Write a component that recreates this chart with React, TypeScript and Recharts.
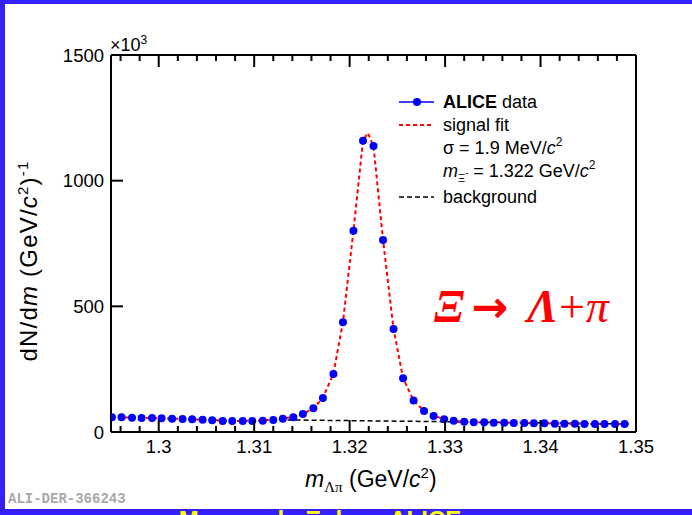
import React from "react";
import { ComposedChart, Line, XAxis, YAxis } from "recharts";

// invariant mass bins (GeV/c^2) and counts (x10^3)
const binX = [
  1.2951, 1.2961, 1.2972, 1.2982, 1.2993, 1.3003, 1.3014, 1.3025, 1.3035, 1.3046,
  1.3056, 1.3067, 1.3077, 1.3088, 1.3098, 1.3109, 1.312, 1.313, 1.3141, 1.3151,
  1.3162, 1.3172, 1.3183, 1.3193, 1.3204, 1.3214, 1.3225, 1.3235, 1.3246, 1.3256,
  1.3267, 1.3278, 1.3288, 1.3299, 1.3309, 1.332, 1.333, 1.3341, 1.3351, 1.3362,
  1.3372, 1.3383, 1.3393, 1.3404, 1.3415, 1.3425, 1.3436, 1.3446, 1.3457, 1.3467,
  1.3478, 1.3488,
];
const counts = [
  58.4, 58.4, 57.0, 55.7, 55.7, 54.4, 53.1, 51.7, 50.4, 49.1,
  46.4, 43.8, 43.8, 43.8, 43.8, 45.1, 47.7, 53.1, 58.4, 72,
  94, 135, 231, 437, 801, 1159, 1138, 764, 410, 214,
  125, 84, 64, 51, 45, 41, 38.5, 38.5, 37.1, 37.1,
  35.8, 35.8, 34.5, 34.5, 33.2, 33.2, 33.2, 31.8, 31.8, 31.8,
  31.8, 31.8,
];

// signal fit curve
const fitX = [
  1.295, 1.2961, 1.2972, 1.2982, 1.2993, 1.3003, 1.3014, 1.3025, 1.3035, 1.3046,
  1.3056, 1.3067, 1.3077, 1.3088, 1.3098, 1.3109, 1.312, 1.313, 1.3141, 1.3151,
  1.3162, 1.3172, 1.3183, 1.3193, 1.3204, 1.3214, 1.3219, 1.3225, 1.3235, 1.3246,
  1.3256, 1.3267, 1.3278, 1.3288, 1.3299, 1.3309, 1.332, 1.333, 1.3341, 1.3351,
  1.3362, 1.3372, 1.3383, 1.3393, 1.3404, 1.3415, 1.3425, 1.3436, 1.3446, 1.3457,
  1.3467, 1.3478, 1.3495,
];
const fitY = [
  58, 58, 57, 56, 55.5, 54.5, 53, 52, 50.5, 49,
  47, 45, 44, 44, 44.5, 46, 49, 54, 60, 72,
  94, 136, 232, 437, 801, 1159, 1190, 1138, 764, 410,
  214, 125, 84, 64, 52, 45, 41, 39, 38, 37.5,
  37, 36, 35.5, 35, 34.5, 34, 33.5, 33, 32.5, 32,
  32, 31.5, 31.5,
];

// background
const bgX = [1.3135, 1.33, 1.3495];
const bgY = [48, 41, 32];

const xTicks = [
  1.296, 1.298, 1.3, 1.302, 1.304, 1.306, 1.308, 1.31, 1.312, 1.314, 1.316, 1.318,
  1.32, 1.322, 1.324, 1.326, 1.328, 1.33, 1.332, 1.334, 1.336, 1.338, 1.34, 1.342,
  1.344, 1.346, 1.348, 1.35,
];
const yTicks = [0, 500, 1000, 1500];

const dataPts = binX.map((x, i) => ({ x, y: counts[i] }));
const fitPts = fitX.map((x, i) => ({ x, y: fitY[i] }));
const bgPts = bgX.map((x, i) => ({ x, y: bgY[i] }));

const FONT = "'Liberation Sans', Arial, Helvetica, sans-serif";
const SERIF = "'Liberation Serif', 'Times New Roman', serif";
const BLUE_FRAME = "#3420ff";

const isMajor = (v: number) => Math.abs(v * 100 - Math.round(v * 100)) < 1e-6;

const BottomTick = (props: any) => {
  const { x, y, payload } = props;
  const major = isMajor(payload.value);
  return (
    <g>
      <line x1={x} x2={x} y1={y} y2={y - (major ? 12 : 6)} stroke="#000" strokeWidth={2} />
      {major && (
        <text x={x} y={y + 21} textAnchor="middle" fontSize={18.5} fontFamily={FONT} fill="#000">
          {String(Number(payload.value.toFixed(2)))}
        </text>
      )}
    </g>
  );
};

const TopTick = (props: any) => {
  const { x, y, payload } = props;
  const major = isMajor(payload.value);
  return <line x1={x} x2={x} y1={y} y2={y + (major ? 12 : 6)} stroke="#000" strokeWidth={2} />;
};

const LeftTick = (props: any) => {
  const { x, y, payload } = props;
  return (
    <g>
      <line x1={x} x2={x + 12} y1={y} y2={y} stroke="#000" strokeWidth={2} />
      <text x={x - 7} y={y + 6.5} textAnchor="end" fontSize={18.5} fontFamily={FONT} fill="#000">
        {payload.value}
      </text>
    </g>
  );
};

const RightTick = (props: any) => {
  const { x, y } = props;
  return <line x1={x} x2={x - 12} y1={y} y2={y} stroke="#000" strokeWidth={2} />;
};

export default function App() {
  return (
    <div
      style={{
        position: "absolute",
        left: 0,
        top: 0,
        width: 692,
        height: 515,
        background: "#fff",
        overflow: "hidden",
      }}
    >
      <ComposedChart
        width={692}
        height={515}
        margin={{ top: 54, right: 55, bottom: 53, left: 51 }}
      >
        <XAxis
          xAxisId="b"
          dataKey="x"
          type="number"
          domain={[1.295, 1.35]}
          allowDataOverflow
          ticks={xTicks}
          interval={0}
          height={30}
          tickSize={0}
          tickMargin={0}
          tickLine={false}
          tick={<BottomTick />}
          axisLine={{ stroke: "#000", strokeWidth: 2 }}
        />
        <XAxis
          xAxisId="t"
          orientation="top"
          dataKey="x"
          type="number"
          domain={[1.295, 1.35]}
          allowDataOverflow
          ticks={xTicks}
          interval={0}
          height={1}
          tickSize={0}
          tickMargin={0}
          tickLine={false}
          tick={<TopTick />}
          axisLine={{ stroke: "#000", strokeWidth: 2 }}
        />
        <YAxis
          yAxisId="l"
          type="number"
          domain={[0, 1500]}
          ticks={yTicks}
          interval={0}
          width={60}
          tickSize={0}
          tickMargin={0}
          tickLine={false}
          tick={<LeftTick />}
          axisLine={{ stroke: "#000", strokeWidth: 2 }}
        />
        <YAxis
          yAxisId="r"
          orientation="right"
          type="number"
          domain={[0, 1500]}
          ticks={yTicks}
          interval={0}
          width={1}
          tickSize={0}
          tickMargin={0}
          tickLine={false}
          tick={<RightTick />}
          axisLine={{ stroke: "#000", strokeWidth: 2 }}
        />
        <Line
          xAxisId="b"
          yAxisId="l"
          data={bgPts}
          dataKey="y"
          type="linear"
          stroke="#000"
          strokeWidth={1.5}
          strokeDasharray="5 3"
          dot={false}
          isAnimationActive={false}
        />
        <Line
          xAxisId="b"
          yAxisId="l"
          data={fitPts}
          dataKey="y"
          type="linear"
          stroke="#ff0000"
          strokeWidth={2}
          strokeDasharray="4 3"
          dot={false}
          isAnimationActive={false}
        />
        <Line
          xAxisId="b"
          yAxisId="l"
          data={dataPts}
          dataKey="y"
          type="linear"
          stroke="none"
          dot={{ r: 4, fill: "#0000ff", stroke: "#0000ff", strokeWidth: 0 }}
          isAnimationActive={false}
        />
      </ComposedChart>

      <svg
        width={692}
        height={515}
        style={{ position: "absolute", left: 0, top: 0, pointerEvents: "none" }}
      >
        {/* frame borders */}
        <rect x={0} y={0} width={692} height={4} fill={BLUE_FRAME} />
        <rect x={0} y={0} width={5} height={515} fill={BLUE_FRAME} />
        <rect x={0} y={509} width={692} height={6} fill={BLUE_FRAME} />
        <text x={320} y={528} textAnchor="middle" fontSize={24} fontWeight="bold" fontFamily={FONT} fill="#ffff00">
          Mesure du Ξ dans ALICE
        </text>

        {/* x10^3 */}
        <text x={110} y={51} fontSize={18} fontFamily={FONT} fill="#000">
          ×10<tspan dy={-7} fontSize={12}>3</tspan>
        </text>

        {/* y title */}
        <text
          x={37}
          y={261}
          textAnchor="middle"
          fontSize={24}
          letterSpacing={1.2}
          fontFamily={FONT}
          fill="#000"
          transform="rotate(-90 37 261)"
        >
          dN/d<tspan fontStyle="italic">m</tspan> (GeV/<tspan fontStyle="italic">c</tspan>
          <tspan dy={-9} fontSize={15}>2</tspan>
          <tspan dy={9}>)</tspan>
          <tspan dy={-9} fontSize={15}>-1</tspan>
        </text>

        {/* x title */}
        <text x={305} y={487} fontSize={23} fontFamily={FONT} fill="#000">
          <tspan fontStyle="italic">m</tspan>
          <tspan dy={5} fontSize={15} fontFamily={SERIF}>Λπ</tspan>
          <tspan dy={-5}> (GeV/</tspan>
          <tspan fontStyle="italic">c</tspan>
          <tspan dy={-9} fontSize={15}>2</tspan>
          <tspan dy={9}>)</tspan>
        </text>

        {/* legend */}
        <line x1={399} x2={434} y1={102} y2={102} stroke="#0000ff" strokeWidth={1.5} />
        <circle cx={417} cy={102} r={4} fill="#0000ff" />
        <text x={443} y={108} fontSize={18} fontFamily={FONT} fill="#000">
          <tspan fontWeight="bold">ALICE</tspan> data
        </text>
        <line x1={399} x2={434} y1={125} y2={125} stroke="#ff0000" strokeWidth={2} strokeDasharray="4 3" />
        <text x={443} y={131} fontSize={18} fontFamily={FONT} fill="#000">signal fit</text>
        <text x={443} y={154} fontSize={18} fontFamily={FONT} fill="#000">
          σ = 1.9 MeV/<tspan fontStyle="italic">c</tspan>
          <tspan dy={-8} fontSize={12}>2</tspan>
        </text>
        <text x={443} y={177} fontSize={18} fontFamily={FONT} fill="#000">
          <tspan fontStyle="italic">m</tspan>
          <tspan dy={5} fontSize={11}>Ξ</tspan>
          <tspan dy={-6} fontSize={9}>-</tspan>
          <tspan dy={1}> = 1.322 GeV/</tspan>
          <tspan fontStyle="italic">c</tspan>
          <tspan dy={-8} fontSize={12}>2</tspan>
        </text>
        <line x1={399} x2={434} y1={197} y2={197} stroke="#000" strokeWidth={1.5} strokeDasharray="5 3" />
        <text x={443} y={203} fontSize={18} fontFamily={FONT} fill="#000">background</text>

        {/* decay annotation */}
        <text x={434} y={322} fontSize={46} fill="#ff0000" fontFamily={SERIF}>
          <tspan fontWeight="bold" fontStyle="italic">Ξ</tspan>
          <tspan fontFamily="'DejaVu Sans', sans-serif" fontWeight="bold" fontSize={44} dx={7}>→</tspan>
          <tspan fontWeight="bold" fontStyle="italic" dx={19}>Λ</tspan>
          <tspan dx={1}>+</tspan>
          <tspan fontStyle="italic" dx={1}>π</tspan>
        </text>

        {/* preliminary id */}
        <text x={8} y={503} fontSize={14} fontWeight="bold" fontFamily="'Liberation Mono', 'DejaVu Sans Mono', monospace" fill="#aaaaaa">
          ALI-DER-366243
        </text>
      </svg>
    </div>
  );
}
